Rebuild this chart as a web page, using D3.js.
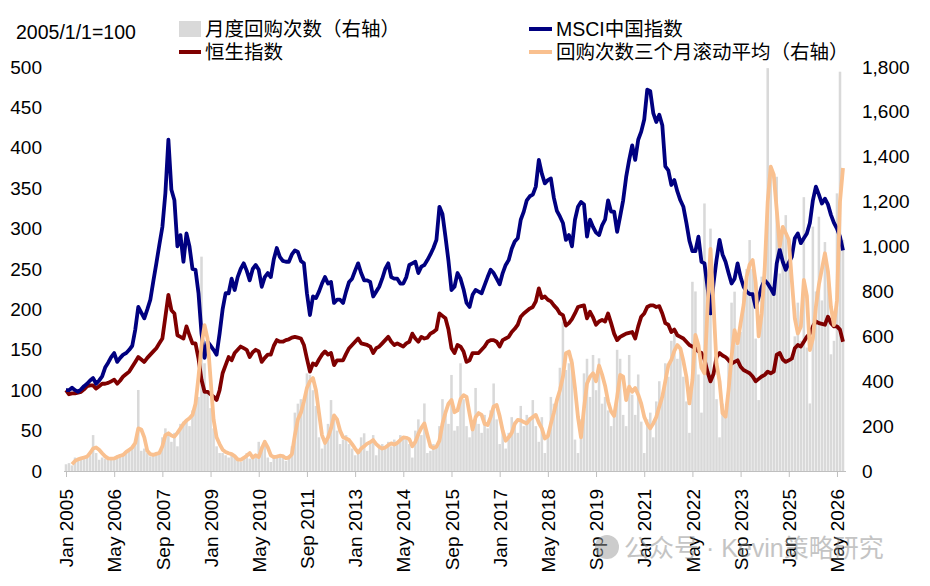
<!DOCTYPE html>
<html><head><meta charset="utf-8">
<script src="https://cdn.jsdelivr.net/npm/d3@7"></script>
<style>
html,body{margin:0;padding:0;background:#fff;}
svg{display:block;}
text{font-family:"Liberation Sans",Arial,"Noto Sans CJK SC",sans-serif;}
</style></head>
<body><svg id="c" width="930" height="586"></svg>
<script>
// ---------- DATA ----------
const months = d3.timeMonth.range(new Date(2005,0,1), new Date(2026,7,1)).map(d3.timeFormat("%b %Y"));
const tickLabels = ["Jan 2005","May 2006","Sep 2007","Jan 2009","May 2010","Sep 2011","Jan 2013","May 2014","Sep 2015","Jan 2017","May 2018","Sep 2019","Jan 2021","May 2022","Sep 2023","Jan 2025","May 2026"];
const leftTicks = [0,50,100,150,200,250,300,350,400,450,500];
const rightTicks = [0,200,400,600,800,1000,1200,1400,1600,1800];

const msci = [100,100,103,100,98,101,105,108,112,115,108,112,117,128,134,141,146,135,140,144,146,150,155,175,203,196,189,200,212,235,
257,280,302,344,410,348,335,278,292,259,294,278,250,249,220,170,140,160,155,150,144,170,200,220,220,238,224,240,250,257,
248,236,250,255,249,228,240,245,240,262,276,265,260,259,259,268,273,271,260,257,220,193,216,214,222,232,240,232,234,208,
212,212,208,222,234,238,248,257,245,236,236,234,216,222,228,238,250,257,240,238,238,232,232,240,255,257,259,245,253,255,
261,268,276,286,327,318,290,260,224,228,245,238,225,208,203,218,224,222,220,230,240,249,245,238,231,245,255,261,275,284,
288,311,321,335,340,342,352,385,368,356,360,362,338,322,315,307,286,292,278,311,327,333,330,290,311,302,295,292,304,311,
335,321,321,296,315,335,364,385,403,385,410,420,435,472,470,443,432,441,428,377,372,354,360,346,335,327,307,285,272,272,
290,259,257,228,195,232,261,286,268,259,245,232,238,257,240,228,222,219,219,203,215,228,236,232,226,219,257,274,259,249,
258,265,288,294,282,288,294,307,335,352,342,331,337,330,317,307,300,290,273];

const hsi = [100,95,96,96,97,98,101,105,106,106,102,105,108,108,109,111,113,108,112,117,120,123,129,135,141,138,135,140,144,148,
152,158,164,191,218,199,195,168,166,164,179,168,158,158,139,113,98,98,95,92,88,100,121,131,141,137,146,150,154,152,
150,141,147,150,148,135,140,144,144,155,162,160,160,162,163,165,166,165,164,156,139,123,133,131,138,144,148,144,146,131,
137,137,137,145,152,156,160,164,158,157,156,154,146,152,154,158,162,166,160,156,158,156,154,158,160,170,164,160,166,164,
165,170,172,175,195,192,189,175,152,146,156,154,148,135,137,146,146,146,150,154,160,162,162,160,154,162,164,166,172,176,
181,191,195,198,201,203,210,226,214,216,212,210,205,201,195,193,180,183,188,195,203,204,205,189,197,190,181,185,187,185,
195,183,170,162,166,168,170,171,172,164,179,191,195,203,205,205,203,204,195,183,181,172,175,168,166,164,160,156,154,152,
148,146,138,123,111,120,141,146,143,141,137,133,135,137,129,125,123,121,117,111,114,117,119,123,121,123,144,146,138,135,
137,139,152,156,154,160,166,170,179,185,183,182,181,191,183,179,179,175,160];

const buybackAvg = [null,null,30,45,52,56,60,64,80,100,105,95,79,65,56,55,56,62,68,72,85,94,105,125,190,185,150,90,75,72,
76,80,110,160,168,158,153,170,190,210,225,235,250,300,420,560,650,590,410,230,150,120,95,85,79,75,66,52,50,58,
68,80,60,70,62,100,130,105,70,62,64,68,66,57,60,75,160,230,260,310,370,400,414,360,260,160,125,150,190,248,
230,180,150,145,138,120,100,82,100,110,122,128,138,120,108,100,105,115,123,118,125,138,150,148,142,110,130,165,192,212,
160,110,102,108,135,210,260,300,316,262,270,320,338,330,255,185,240,258,250,210,205,240,288,294,245,180,135,150,170,210,
228,226,218,212,230,240,250,215,190,145,155,210,260,316,360,420,525,532,480,370,240,150,280,390,420,435,400,470,430,380,
310,265,245,330,428,420,316,376,353,370,340,300,242,210,190,212,240,287,330,400,470,495,535,561,546,490,420,301,405,606,
560,460,435,720,990,740,480,400,257,242,361,509,628,569,658,740,866,920,940,840,600,700,900,1200,1356,1320,1163,1000,1088,1060,
1030,850,680,613,643,851,780,539,590,732,830,900,970,890,730,650,760,1200,1350];

const buybacks = [30,35,25,60,55,50,65,60,70,160,80,50,60,55,50,60,55,70,65,80,90,100,110,125,361,90,100,80,65,75,
85,85,150,190,160,130,170,110,210,220,230,200,270,290,330,955,480,360,280,190,110,80,80,70,60,80,70,50,40,60,
80,55,70,60,130,110,120,60,40,70,60,70,60,45,70,110,260,300,320,300,435,428,360,290,150,100,130,210,316,250,
180,120,140,160,120,100,70,80,150,168,90,130,160,70,110,120,100,130,110,140,120,160,150,140,120,60,180,230,160,301,
80,90,120,110,200,320,260,210,428,180,200,480,320,200,150,190,370,210,170,250,190,270,390,230,120,180,100,170,240,220,
170,290,200,250,240,316,200,130,240,80,150,330,300,320,460,665,450,480,500,140,80,230,435,500,330,517,360,502,300,330,
270,200,250,540,500,250,200,517,340,250,430,220,80,230,260,150,310,400,320,480,420,580,610,500,530,420,310,170,843,800,
430,260,1192,700,1080,440,320,150,300,270,510,750,799,560,620,800,900,1029,900,590,316,866,920,1795,1360,800,1311,880,1070,1140,
920,490,600,750,580,1220,550,301,1089,800,1133,760,1020,890,520,580,1237,1779,1030];

// ---------- CHART ----------
const svg = d3.select("#c");
const N = months.length;
const x = d3.scaleLinear().domain([0, N-1]).range([66, 843]);
const step = x(1) - x(0);
const yL = d3.scaleLinear().domain([0,500]).range([471,67]);
const yR = d3.scaleLinear().domain([0,1800]).range([471,67]);

const colBar = "#d9d9d9", colHS = "#7f0000", colMSCI = "#000080", colAvg = "#f9c08f";

// bars
svg.append("g").selectAll("rect").data(buybacks).join("rect")
  .attr("x", (d,i) => x(i) - step*0.42)
  .attr("width", step*0.84)
  .attr("y", d => yR(d))
  .attr("height", d => yR(0) - yR(d))
  .attr("fill", colBar);

// x axis
const tickIdx = tickLabels.map(l => months.indexOf(l));
const xAxis = d3.axisBottom(x).tickValues(tickIdx).tickFormat((d) => months[d]).tickSize(6).tickSizeOuter(0);
const gx = svg.append("g").attr("transform","translate(0,471)").call(xAxis);
gx.select(".domain").attr("stroke","#bfbfbf").attr("d","M64,0.5H846");
gx.selectAll(".tick line").attr("stroke","#bfbfbf");
gx.selectAll(".tick text")
  .attr("transform","rotate(-90)")
  .attr("text-anchor","end")
  .attr("x",-18).attr("y",0).attr("dy","0.35em")
  .attr("font-size",19).attr("fill","#000");

// left axis
const gl = svg.append("g").attr("transform","translate(48,0)")
  .call(d3.axisLeft(yL).tickValues(leftTicks).tickSize(0).tickPadding(6));
gl.select(".domain").remove();
gl.selectAll("text").attr("font-size",19).attr("fill","#000");

// right axis
const gr = svg.append("g").attr("transform","translate(856,0)")
  .call(d3.axisRight(yR).tickValues(rightTicks).tickSize(0).tickPadding(6).tickFormat(d3.format(",")));
gr.select(".domain").remove();
gr.selectAll("text").attr("font-size",19).attr("fill","#000");

// lines
const lineL = d3.line().defined(d => d != null).x((d,i) => x(i)).y(d => yL(d));
const lineR = d3.line().defined(d => d != null).x((d,i) => x(i)).y(d => yR(d));
svg.append("path").datum(hsi).attr("d", lineL).attr("fill","none").attr("stroke",colHS).attr("stroke-width",3.8).attr("stroke-linejoin","round");
svg.append("path").datum(msci).attr("d", lineL).attr("fill","none").attr("stroke",colMSCI).attr("stroke-width",3.8).attr("stroke-linejoin","round");
svg.append("path").datum(buybackAvg).attr("d", lineR).attr("fill","none").attr("stroke",colAvg).attr("stroke-width",3.8).attr("stroke-linejoin","round");

// axis title
svg.append("text").attr("x",16).attr("y",32).attr("dy","0.35em").attr("font-size",19.5).text("2005/1/1=100");

// legend
const lg = svg.append("g");
lg.append("rect").attr("x",179).attr("y",21).attr("width",22).attr("height",16).attr("fill",colBar);
lg.append("text").attr("x",205).attr("y",29).attr("dy","0.35em").attr("font-size",19.5).text("月度回购次数（右轴）");
lg.append("line").attr("x1",179).attr("x2",201).attr("y1",52).attr("y2",52).attr("stroke",colHS).attr("stroke-width",4);
lg.append("text").attr("x",205).attr("y",52).attr("dy","0.35em").attr("font-size",19.5).text("恒生指数");
lg.append("line").attr("x1",529).attr("x2",552).attr("y1",29).attr("y2",29).attr("stroke",colMSCI).attr("stroke-width",4);
lg.append("text").attr("x",556).attr("y",29).attr("dy","0.35em").attr("font-size",19.5).text("MSCI中国指数");
lg.append("line").attr("x1",529).attr("x2",552).attr("y1",52).attr("y2",52).attr("stroke",colAvg).attr("stroke-width",4);
lg.append("text").attr("x",556).attr("y",52).attr("dy","0.35em").attr("font-size",19.5).text("回购次数三个月滚动平均（右轴）");

// watermark
const wm = svg.append("g").attr("opacity",0.5);
wm.append("circle").attr("cx",607).attr("cy",547).attr("r",12).attr("fill","#9a9a9a");
wm.append("text").attr("x",624).attr("y",548).attr("dy","0.35em").attr("font-size",25).attr("fill","#8a8a8a").text("公众号 · Kevin策略研究");
</script></body></html>
